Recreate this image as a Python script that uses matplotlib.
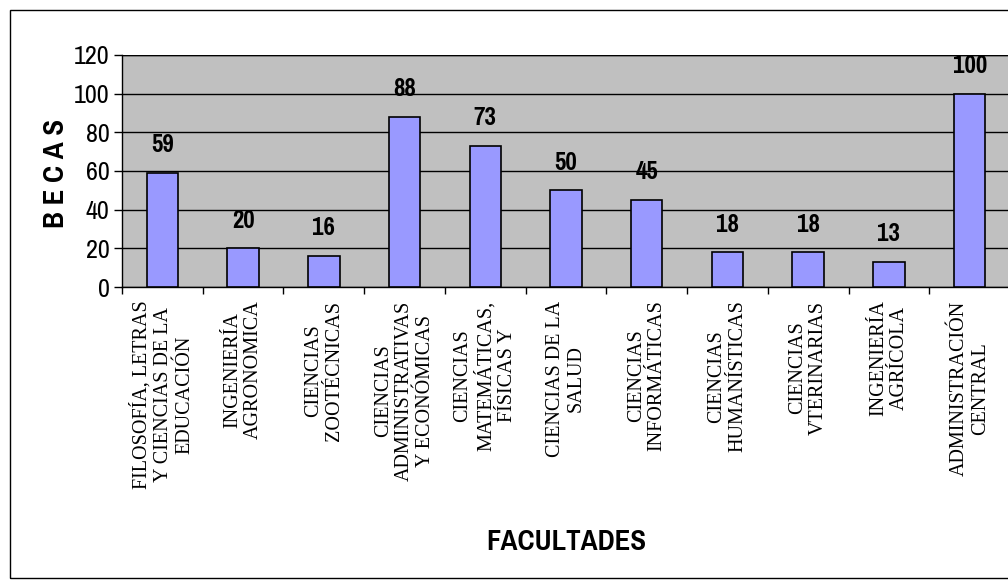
import matplotlib
matplotlib.use("Agg")
import matplotlib.pyplot as plt
from matplotlib import font_manager as fm
from matplotlib.patches import Rectangle

names = {f.name for f in fm.fontManager.ttflist}
narrow = next((n for n in ["Liberation Sans Narrow", "Arial Narrow", "Pragati Narrow",
                           "Archivo Narrow", "Roboto Condensed"] if n in names), "DejaVu Sans")
serif = next((n for n in ["Liberation Serif", "Tinos", "DejaVu Serif"] if n in names), "serif")

categories = [
    "FILOSOFÍA, LETRAS\nY CIENCIAS DE LA\nEDUCACIÓN",
    "INGENIERÍA\nAGRONOMICA",
    "CIENCIAS\nZOOTÉCNICAS",
    "CIENCIAS\nADMINISTRATIVAS\nY ECONÓMICAS",
    "CIENCIAS\nMATEMÁTICAS,\nFÍSICAS Y",
    "CIENCIAS DE LA\nSALUD",
    "CIENCIAS\nINFORMÁTICAS",
    "CIENCIAS\nHUMANÍSTICAS",
    "CIENCIAS\nVTERINARIAS",
    "INGENIERÍA\nAGRÍCOLA",
    "ADMINISTRACIÓN\nCENTRAL",
]
becas = [59, 20, 16, 88, 73, 50, 45, 18, 18, 13, 100]
yticks = [0, 20, 40, 60, 80, 100, 120]

W, H = 1008, 586
fig = plt.figure(figsize=(W / 100, H / 100), dpi=100)
fig.patch.set_facecolor("white")

# outer chart border
fig.add_artist(Rectangle((10 / W, 8 / H), 1.2, (H - 10 - 8) / H, transform=fig.transFigure,
                         fill=False, edgecolor="black", linewidth=1.0))

left, right, top, bottom = 122, 1010, 55, 287
ax = fig.add_axes([left / W, 1 - bottom / H, (right - left) / W, (bottom - top) / H])
ax.set_facecolor("#C0C0C0")

x = list(range(len(categories)))
ax.bar(x, becas, width=0.39, color="#9999FF", edgecolor="black", linewidth=1.2, zorder=3)
ax.set_xlim(-0.5, len(categories) - 0.5)
ax.set_ylim(0, 120)
ax.set_yticks(yticks)
ax.set_yticklabels([str(v) for v in yticks], fontfamily=narrow, fontsize=20.5)
ax.yaxis.grid(True, color="black", linewidth=1.0, zorder=1)
ax.set_axisbelow(True)
ax.tick_params(axis="y", direction="out", length=6, width=1, pad=3)

ax.set_xticks([i + 0.5 for i in range(-1, len(categories))])
ax.set_xticklabels([])
ax.tick_params(axis="x", direction="out", length=5, width=1)
for i, lab in enumerate(categories):
    ax.text(i, -7, lab, rotation=90, ha="center", va="top", multialignment="center",
            fontfamily=serif, fontsize=14.5, linespacing=1.15, transform=ax.transData,
            clip_on=False)

for s in ["top", "right"]:
    ax.spines[s].set_visible(False)
ax.spines["left"].set_linewidth(1.0)
ax.spines["bottom"].set_linewidth(1.0)
ax.axhline(120, color="black", linewidth=1.0, zorder=2)

for i, v in enumerate(becas):
    ax.annotate(str(v), (i, v), xytext=(0, 12), textcoords="offset points",
                ha="center", va="bottom", fontfamily=narrow, fontweight="bold", fontsize=19.5)

fig.text(55 / W, 1 - 173 / H, "B E C A S", rotation=90, ha="center", va="center",
         fontfamily=narrow, fontweight="bold", fontsize=22.5)
fig.text(566 / W, 1 - 541 / H, "FACULTADES", ha="center", va="center",
         fontfamily=narrow, fontweight="bold", fontsize=22.5)

fig.savefig("out.png", dpi=100)
